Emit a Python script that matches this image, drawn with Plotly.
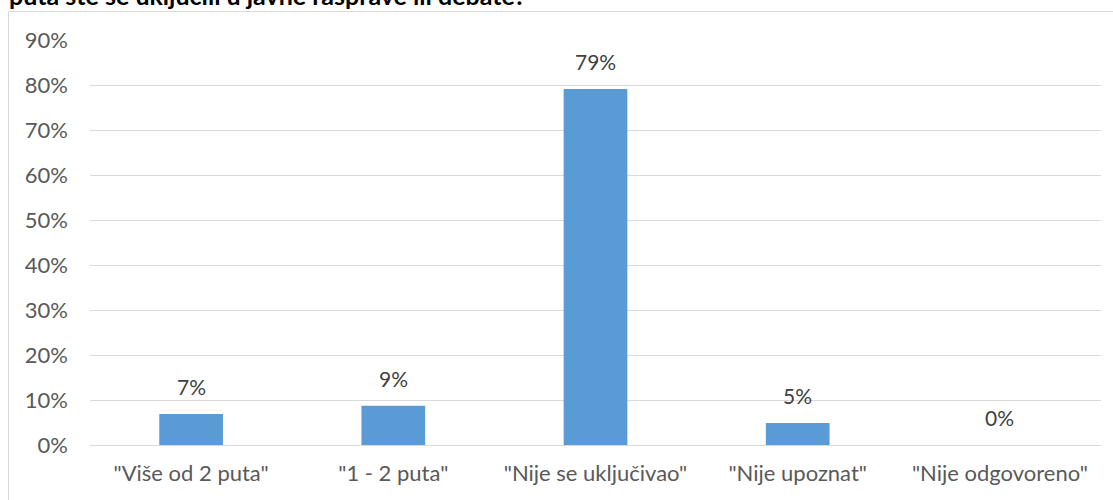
import plotly.graph_objects as go

categories = ['"Više od 2 puta"', '"1 - 2 puta"', '"Nije se uključivao"', '"Nije upoznat"', '"Nije odgovoreno"']
values = [0.069, 0.087, 0.791, 0.049, 0.0]
labels = ["7%", "9%", "79%", "5%", "0%"]
y_ticks = [0, 0.1, 0.2, 0.3, 0.4, 0.5, 0.6, 0.7, 0.8, 0.9]
title_text = "puta ste se uključili u javne rasprave ili debate?"

FONT = "Lato"
W, H = 1113, 500
ML, MR, MT, MB = 90, 12, 40, 55
pw = W - ML - MR
ph = H - MT - MB

def px_x(p):
    return (p - ML) / pw

def px_y(p):
    return (H - MB - p) / ph

fig = go.Figure()
fig.add_trace(go.Bar(
    x=categories, y=values,
    marker=dict(color="#5B9BD5", line=dict(width=0)),
    hoverinfo="skip",
))

for c, v, t in zip(categories, values, labels):
    fig.add_annotation(x=c, y=v, text=t, showarrow=False, yanchor="bottom",
                       yshift=13, font=dict(family=FONT, size=21, color="#404040"))

fig.add_annotation(xref="paper", yref="paper", x=px_x(7), y=px_y(12),
                   xanchor="left", yanchor="bottom", text="<b>" + title_text + "</b>",
                   showarrow=False, font=dict(family=FONT, size=25, color="#000000"))

fig.add_shape(type="rect", xref="paper", yref="paper",
              x0=px_x(8.5), x1=px_x(1130), y0=px_y(520), y1=px_y(11.5),
              line=dict(color="#D9D9D9", width=1), fillcolor="rgba(0,0,0,0)", layer="below")

fig.update_layout(
    width=W, height=H,
    margin=dict(l=ML, r=MR, t=MT, b=MB),
    paper_bgcolor="white", plot_bgcolor="white",
    showlegend=False,
    bargap=0.685,
    font=dict(family=FONT, size=22, color="#595959"),
)
fig.update_yaxes(range=[0, 0.9], tickvals=y_ticks, tickformat=".0%",
                 showgrid=True, gridcolor="#D9D9D9", gridwidth=1,
                 zeroline=True, zerolinecolor="#D9D9D9", zerolinewidth=1,
                 showline=False, ticks="", ticklabelstandoff=21,
                 tickfont=dict(family=FONT, size=22, color="#595959"))
fig.update_xaxes(showgrid=False, showline=False, ticks="", ticklabelstandoff=13,
                 tickfont=dict(family=FONT, size=22, color="#595959"))

fig.write_html("out.html", config={"displayModeBar": False},
               post_script="document.body.style.margin='0';document.body.style.overflow='hidden';")
